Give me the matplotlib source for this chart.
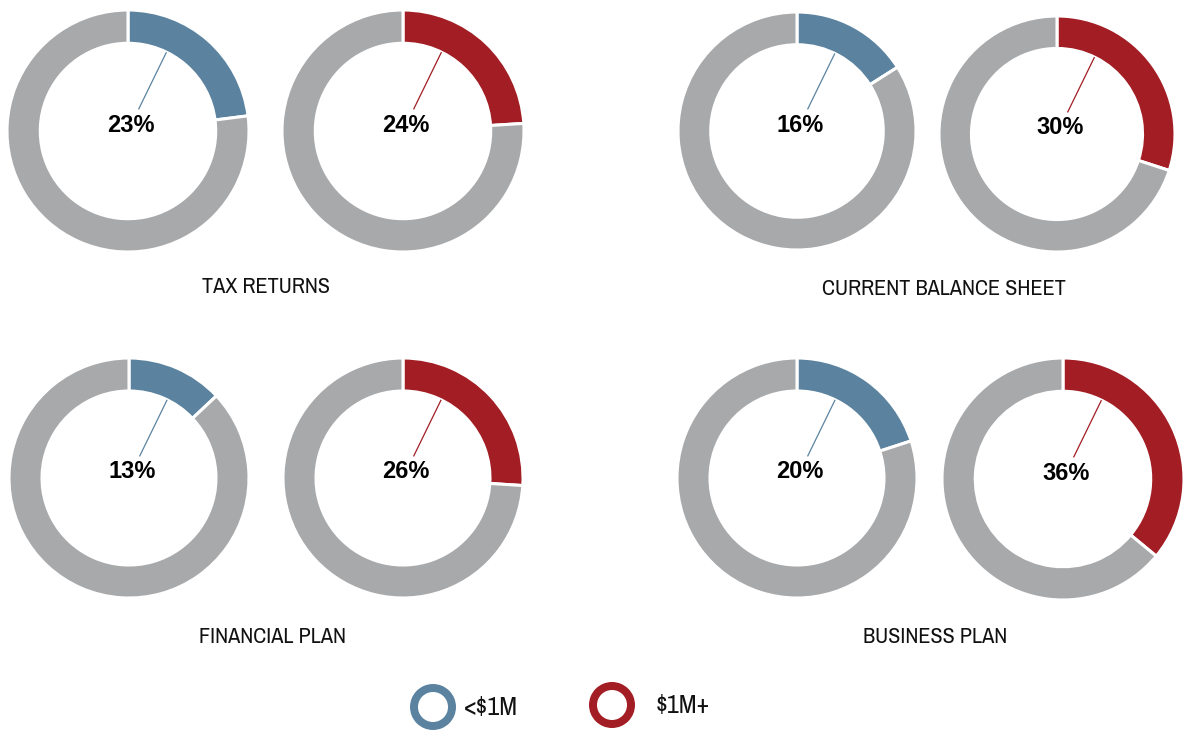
import matplotlib
matplotlib.use("Agg")
import matplotlib.pyplot as plt
from matplotlib import font_manager
import numpy as np

# ---- data ----
groups = ["TAX RETURNS", "CURRENT BALANCE SHEET", "FINANCIAL PLAN", "BUSINESS PLAN"]
under_1m = [23, 16, 13, 20]   # <$1M
over_1m = [24, 30, 26, 36]    # $1M+
legend_labels = ["<$1M", "$1M+"]

BLUE = "#5b83a0"
RED = "#a21d24"
GRAY = "#a8a9ab"

names = sorted({f.name for f in font_manager.fontManager.ttflist})
narrow_cands = [n for n in names if "Narrow" in n or "Condensed" in n]
if narrow_cands:
    NARROW = narrow_cands[0]
    TSIZE = 16
else:
    NARROW = "Roboto"
    TSIZE = 14.2

W, H = 1183, 731
fig = plt.figure(figsize=(W / 100, H / 100), dpi=100)
ax = fig.add_axes([0, 0, 1, 1])

# layout (pixel positions, y measured from top)
centers = [
    [(128, 131), (403, 131)],
    [(797, 131), (1057, 134)],
    [(129, 478), (403, 478)],
    [(797, 478), (1063, 479)],
]
radii = [[121, 121], [119, 118], [120, 120], [120, 121]]
title_pos = [(266, 287), (944, 289), (273, 637), (935, 637)]
ring_frac = 0.275
lead_ang = np.deg2rad(26)

for g in range(4):
    vals = [under_1m[g], over_1m[g]]
    cols = [BLUE, RED]
    for k in range(2):
        cx, cyt = centers[g][k]
        cy = H - cyt
        R = radii[g][k]
        v = vals[k]
        ax.pie([v, 100 - v], colors=[cols[k], GRAY], startangle=90,
               counterclock=False, center=(cx, cy), radius=R,
               wedgeprops=dict(width=R * ring_frac, edgecolor="white",
                               linewidth=2.2))
        rin = R * (1 - ring_frac)
        # leader line
        r0, r1 = 24, rin
        ax.plot([cx + r0 * np.sin(lead_ang), cx + r1 * np.sin(lead_ang)],
                [cy + r0 * np.cos(lead_ang), cy + r1 * np.cos(lead_ang)],
                color=cols[k], lw=0.9, solid_capstyle="butt")
        ax.text(cx + 3, cy + 6, f"{v}%", ha="center", va="center",
                fontsize=17, fontweight="bold",
                family=["Liberation Sans", "DejaVu Sans"], color="black")
    tx, ty = title_pos[g]
    ax.text(tx, H - ty, groups[g], ha="center", va="center", fontsize=TSIZE,
            family=[NARROW, "DejaVu Sans"], color="#111111")

# legend
leg_centers = [(433, 707), (612, 705)]
leg_text_x = [464, 656]
for k in range(2):
    cx, cyt = leg_centers[k]
    ax.pie([1], colors=[[BLUE, RED][k]], center=(cx, H - cyt), radius=23,
           wedgeprops=dict(width=8, edgecolor="none"))
    ax.text(leg_text_x[k], H - cyt, legend_labels[k], ha="left", va="center",
            fontsize=TSIZE + 2.8, family=[NARROW, "DejaVu Sans"],
            color="#111111")

ax.set_xlim(0, W)
ax.set_ylim(0, H)
ax.set_aspect("equal")
ax.axis("off")
fig.savefig("out.png", dpi=100, facecolor="white")
